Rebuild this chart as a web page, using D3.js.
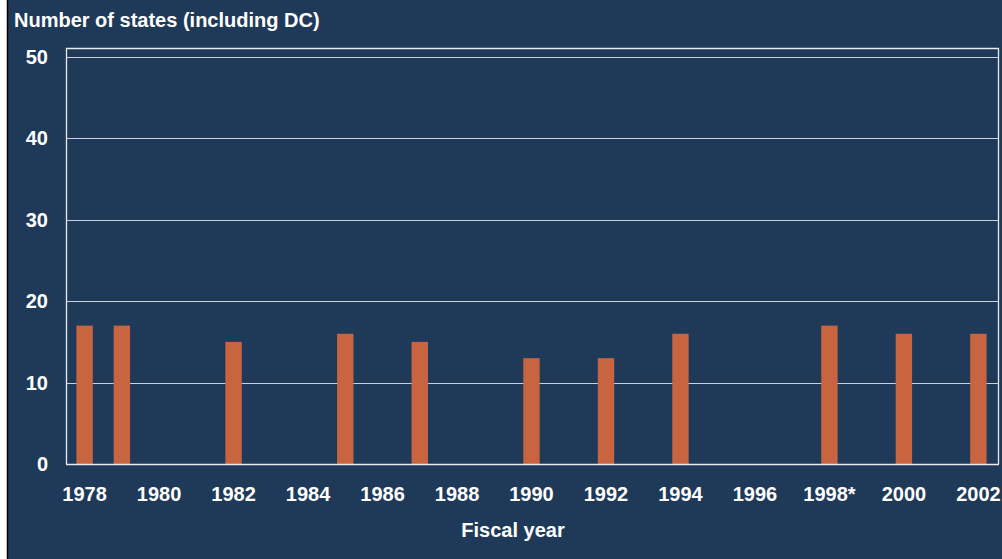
<!DOCTYPE html>
<html>
<head>
<meta charset="utf-8">
<script src="https://cdn.jsdelivr.net/npm/d3@7"></script>
<style>
  body { margin: 0; background: #fff; }
  svg { display: block; font-family: "Liberation Sans", Arial, sans-serif; }
</style>
</head>
<body>
<svg id="chart" width="1002" height="559"></svg>
<script>
// fiscal years on the axis, one slot per year
const years = d3.range(1978, 2003);
const tickLabels = ["1978", "1980", "1982", "1984", "1986", "1988", "1990", "1992", "1994", "1996", "1998*", "2000", "2002"];
const barYears = [1978, 1979, 1982, 1985, 1987, 1990, 1992, 1994, 1998, 2000, 2002];
const barValues = [17, 17, 15, 16, 15, 13, 13, 16, 17, 16, 16];
const yTicks = [0, 10, 20, 30, 40, 50];

const svg = d3.select("#chart");
const W = 1002, H = 559;
const margin = { left: 66, right: 5, top: 57, bottom: 95 };
const fontSize = 20;

// background panel with black left edge
svg.append("rect").attr("x", 7).attr("y", 0).attr("width", W - 7).attr("height", H).attr("fill", "#1f3a58");
svg.append("line").attr("x1", 7.5).attr("x2", 7.5).attr("y1", 0).attr("y2", H)
    .attr("stroke", "#000").attr("stroke-width", 1.5);

const x = d3.scaleBand().domain(years).range([margin.left, W - margin.right]).paddingInner(0.56).paddingOuter(0.28);
const y = d3.scaleLinear().domain([0, 50]).range([H - margin.bottom, margin.top]);

// gridlines
svg.append("g")
    .selectAll("line")
    .data(yTicks.filter(d => d > 0))
    .enter()
    .append("line")
    .attr("x1", margin.left).attr("x2", W - margin.right + 1)
    .attr("y1", d => Math.round(y(d)) + 0.5).attr("y2", d => Math.round(y(d)) + 0.5)
    .attr("stroke", "#c9d1da").attr("stroke-width", 1.2);

// plot frame (top, left, right)
svg.append("path")
    .attr("d", `M${margin.left + 0.5},${H - margin.bottom} V48.5 H${W - 3.5} V${H - margin.bottom}`)
    .attr("fill", "none").attr("stroke", "#e8ecf0").attr("stroke-width", 1.3);

// bars
svg.append("g")
    .selectAll("rect")
    .data(barYears.map((yr, i) => ({ year: yr, value: barValues[i] })))
    .enter()
    .append("rect")
    .attr("x", d => x(d.year))
    .attr("width", x.bandwidth())
    .attr("y", d => y(d.value))
    .attr("height", d => y(0) - y(d.value))
    .attr("fill", "#c96441");

// baseline
svg.append("line")
    .attr("x1", margin.left).attr("x2", W - 3)
    .attr("y1", y(0) + 0.5).attr("y2", y(0) + 0.5)
    .attr("stroke", "#e8ecf0").attr("stroke-width", 1.5);

// y axis labels
const yAxis = d3.axisLeft(y).tickValues(yTicks).tickSize(0).tickPadding(0);
svg.append("g")
    .attr("transform", "translate(48,0)")
    .call(yAxis)
    .call(g => g.select(".domain").remove())
    .selectAll("text")
    .attr("fill", "#fff").attr("font-size", fontSize).attr("font-weight", "bold")
    .attr("font-family", "'Liberation Sans', Arial, sans-serif");

// x axis labels, every second year
const xAxis = d3.axisBottom(x)
    .tickValues(years.filter(d => d % 2 === 0))
    .tickFormat((d, i) => tickLabels[i])
    .tickSize(0).tickPadding(0);
svg.append("g")
    .attr("transform", `translate(0,${y(0) + 23})`)
    .call(xAxis)
    .call(g => g.select(".domain").remove())
    .selectAll("text")
    .attr("fill", "#fff").attr("font-size", fontSize).attr("font-weight", "bold")
    .attr("font-family", "'Liberation Sans', Arial, sans-serif");

// titles
svg.append("text").attr("x", 14).attr("y", 27)
    .attr("fill", "#fff").attr("font-size", fontSize).attr("font-weight", "bold")
    .text("Number of states (including DC)");
svg.append("text").attr("x", 513).attr("y", 537).attr("text-anchor", "middle")
    .attr("fill", "#fff").attr("font-size", fontSize).attr("font-weight", "bold")
    .text("Fiscal year");
</script>
</body>
</html>
